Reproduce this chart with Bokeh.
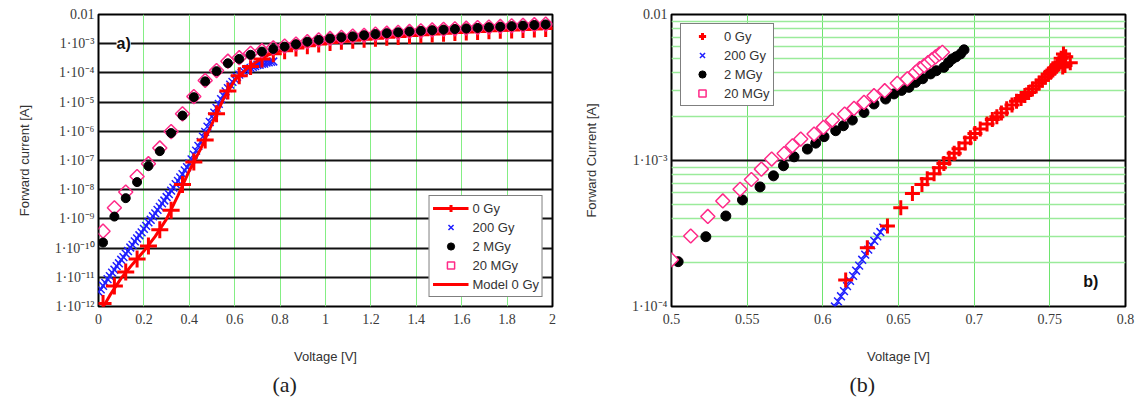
from bokeh.plotting import figure
from bokeh.layouts import row
from bokeh.models import (Range1d, FixedTicker, CustomJSTickFormatter, Legend,
                          LegendItem, Label, Title)
from bokeh.embed import file_html
from bokeh.resources import INLINE

# ---------------- panel (a): forward sweep 0 .. 2 V ----------------
# measured bias points (V) shared by the 0 Gy, 2 MGy and 20 MGy sweeps
v_a = [0.02, 0.07, 0.12, 0.17, 0.22, 0.27, 0.32, 0.37, 0.42, 0.47,
       0.52, 0.57, 0.62, 0.67, 0.72, 0.77, 0.82, 0.87, 0.92, 0.97,
       1.02, 1.07, 1.12, 1.17, 1.22, 1.27, 1.32, 1.37, 1.42, 1.47,
       1.52, 1.57, 1.62, 1.67, 1.72, 1.77, 1.82, 1.87, 1.92, 1.97]

# log10 of forward current [A]
log_0gy_a = [-11.90, -11.30, -10.82, -10.37, -9.93, -9.37, -8.70, -7.82, -7.05, -6.30,
             -5.40, -4.62, -4.10, -3.78, -3.52, -3.34, -3.24, -3.15, -3.07, -3.01,
             -2.96, -2.92, -2.88, -2.85, -2.81, -2.78, -2.75, -2.72, -2.69, -2.67,
             -2.64, -2.62, -2.60, -2.58, -2.56, -2.54, -2.53, -2.51, -2.50, -2.48]

log_2mgy_a = [-9.81, -8.92, -8.29, -7.74, -7.19, -6.68, -6.06, -5.46, -4.83, -4.29,
              -3.94, -3.67, -3.52, -3.38, -3.27, -3.18, -3.10, -3.02, -2.93, -2.87,
              -2.82, -2.78, -2.75, -2.71, -2.67, -2.64, -2.61, -2.58, -2.56, -2.54,
              -2.52, -2.50, -2.48, -2.46, -2.44, -2.42, -2.40, -2.38, -2.36, -2.34]

log_20mgy_a = [-9.42, -8.62, -8.08, -7.55, -7.11, -6.57, -6.01, -5.40, -4.81, -4.26,
               -3.92, -3.60, -3.48, -3.33, -3.24, -3.14, -3.08, -3.01, -2.93, -2.87,
               -2.82, -2.78, -2.74, -2.71, -2.67, -2.64, -2.61, -2.58, -2.56, -2.53,
               -2.51, -2.49, -2.47, -2.45, -2.43, -2.41, -2.39, -2.37, -2.35, -2.33]

# 200 Gy sweep, finer voltage step
v_200gy_a = [0.00, 0.01, 0.02, 0.03, 0.04, 0.05, 0.06, 0.07, 0.08, 0.09,
             0.10, 0.11, 0.12, 0.13, 0.14, 0.15, 0.16, 0.17, 0.18, 0.19,
             0.20, 0.21, 0.22, 0.23, 0.24, 0.25, 0.26, 0.27, 0.28, 0.29,
             0.30, 0.31, 0.32, 0.33, 0.34, 0.35, 0.36, 0.37, 0.38, 0.39,
             0.40, 0.41, 0.42, 0.43, 0.44, 0.45, 0.46, 0.47, 0.48, 0.49,
             0.50, 0.51, 0.52, 0.53, 0.54, 0.55, 0.56, 0.57, 0.58, 0.59,
             0.60, 0.61, 0.62, 0.63, 0.64, 0.65, 0.66, 0.67, 0.68, 0.69,
             0.70, 0.71, 0.72, 0.73, 0.74, 0.75, 0.76, 0.77]
log_200gy_a = [-11.50, -11.41, -11.29, -11.19, -11.06, -10.96, -10.84, -10.74, -10.62, -10.52,
               -10.40, -10.31, -10.19, -10.10, -9.98, -9.89, -9.77, -9.67, -9.56, -9.46,
               -9.34, -9.24, -9.12, -9.03, -8.91, -8.81, -8.69, -8.59, -8.47, -8.37,
               -8.25, -8.15, -8.03, -7.93, -7.81, -7.70, -7.58, -7.47, -7.34, -7.23,
               -7.10, -6.96, -6.80, -6.66, -6.50, -6.36, -6.18, -6.02, -5.84, -5.68,
               -5.50, -5.36, -5.20, -5.06, -4.90, -4.77, -4.63, -4.52, -4.40, -4.31,
               -4.21, -4.14, -4.06, -4.01, -3.95, -3.91, -3.86, -3.83, -3.79, -3.77,
               -3.73, -3.72, -3.69, -3.68, -3.65, -3.64, -3.62, -3.61]

# diode model for the unirradiated device
v_model = [0.0, 0.05, 0.1, 0.15, 0.2, 0.25, 0.3, 0.35, 0.4, 0.45, 0.5, 0.55,
           0.6, 0.65, 0.7, 0.75, 0.8, 0.9, 1.0, 1.2, 1.4, 1.6, 1.8, 2.0]
log_model = [-12.3, -11.62, -11.03, -10.55, -10.1, -9.6, -9.0, -8.2, -7.35, -6.6, -5.75, -4.9,
             -4.25, -3.88, -3.6, -3.38, -3.24, -3.08, -2.95, -2.8, -2.67, -2.56, -2.49, -2.43]

# ---------------- panel (b): zoom on 0.5 .. 0.8 V ----------------
v_0gy_b = [0.6151, 0.6294, 0.6427, 0.6515, 0.6592, 0.6655, 0.6690, 0.6735, 0.6770, 0.6800,
           0.6835, 0.6868, 0.6900, 0.6940, 0.6975, 0.7005, 0.7040, 0.7085, 0.7120, 0.7150,
           0.7180, 0.7215, 0.7250, 0.7280, 0.7310, 0.7335, 0.7360, 0.7385, 0.7410, 0.7430,
           0.7450, 0.7470, 0.7490, 0.7505, 0.7520, 0.7535, 0.7550, 0.7560, 0.7575, 0.7590,
           0.7605, 0.7635, 0.7600, 0.7585]
log_0gy_b = [-3.819, -3.597, -3.448, -3.323, -3.226, -3.165, -3.125, -3.090, -3.050, -3.020,
             -2.985, -2.950, -2.920, -2.880, -2.845, -2.815, -2.785, -2.750, -2.720, -2.700,
             -2.675, -2.645, -2.620, -2.595, -2.575, -2.555, -2.535, -2.510, -2.490, -2.470,
             -2.450, -2.430, -2.410, -2.395, -2.380, -2.365, -2.345, -2.330, -2.300, -2.270,
             -2.290, -2.330, -2.350, -2.360]

v_200gy_b = [0.608, 0.610, 0.612, 0.614, 0.616, 0.618, 0.620, 0.622, 0.624, 0.626,
             0.628, 0.630, 0.632, 0.634, 0.636, 0.638, 0.640]
log_200gy_b = [-4.00, -3.965, -3.93, -3.895, -3.86, -3.825, -3.79, -3.755, -3.72, -3.68,
               -3.645, -3.61, -3.58, -3.55, -3.52, -3.49, -3.46]

v_2mgy_b = [0.5044, 0.5227, 0.5359, 0.5469, 0.5585, 0.5674, 0.5740, 0.5810, 0.5898, 0.5953,
            0.6008, 0.6085, 0.6136, 0.6195, 0.6272, 0.6338, 0.6415, 0.6470, 0.6520, 0.6569,
            0.6613, 0.6660, 0.6712, 0.6750, 0.6800, 0.6830, 0.6856, 0.6880, 0.6910, 0.6933]
log_2mgy_b = [-3.693, -3.522, -3.380, -3.270, -3.181, -3.105, -3.036, -2.975, -2.922, -2.881,
              -2.837, -2.796, -2.762, -2.723, -2.671, -2.613, -2.579, -2.544, -2.520, -2.499,
              -2.465, -2.440, -2.407, -2.385, -2.362, -2.330, -2.304, -2.290, -2.270, -2.242]

v_20mgy_b = [0.5000, 0.5127, 0.5240, 0.5339, 0.5453, 0.5528, 0.5594, 0.5662, 0.5744, 0.5799,
             0.5854, 0.5942, 0.6004, 0.6063, 0.6144, 0.6206, 0.6272, 0.6338, 0.6409, 0.6492,
             0.6558, 0.6613, 0.6640, 0.6670, 0.6695, 0.6720, 0.6745, 0.6770, 0.6790]
log_20mgy_b = [-3.680, -3.517, -3.383, -3.277, -3.197, -3.130, -3.059, -2.990, -2.952, -2.899,
               -2.853, -2.819, -2.773, -2.723, -2.682, -2.643, -2.602, -2.556, -2.522, -2.471,
               -2.441, -2.396, -2.370, -2.350, -2.330, -2.310, -2.290, -2.270, -2.259]

RED = "#ff0000"
BLUE = "#1f1fff"
PINK = "#ff2a88"
GREEN = "#84ee84"
SERIF = "Liberation Serif"
SANS = "Liberation Sans"
QUARTER_TURN = 0.785398  # square marker turned into a diamond

Y_FMT = CustomJSTickFormatter(code="""
    const e = Math.round(Math.log10(tick));
    if (e === -2) { return "0.01"; }
    const sup = {"0":"\u2070","1":"\u00b9","2":"\u00b2","3":"\u00b3","4":"\u2074",
                 "5":"\u2075","6":"\u2076","7":"\u2077","8":"\u2078","9":"\u2079","-":"\u207b"};
    return "1\u00b710" + String(e).split("").map(c => sup[c]).join("");
""")
X_FMT = CustomJSTickFormatter(code="return String(Math.round(tick * 100) / 100);")


def to_amp(logs):
    return [10.0 ** v for v in logs]


def base_figure(width, left, right, x_range, y_range, ylabel, ylabel_standoff):
    p = figure(width=width, height=409, x_range=x_range, y_range=y_range,
               y_axis_type="log", output_backend="svg", toolbar_location=None,
               min_border_left=left, min_border_right=right,
               min_border_top=14, min_border_bottom=103)
    p.outline_line_color = "black"
    p.outline_line_width = 2
    p.background_fill_color = "white"
    p.border_fill_color = "white"
    for ax in (p.xaxis[0], p.yaxis[0]):
        ax.axis_line_color = None
        ax.major_tick_line_color = None
        ax.minor_tick_line_color = None
        ax.major_tick_out = 0
        ax.major_tick_in = 0
        ax.major_label_text_font = SERIF
        ax.major_label_text_font_size = "14px"
        ax.major_label_text_color = "#3a3a3a"
        ax.axis_label_text_font = SANS
        ax.axis_label_text_font_size = "13px"
        ax.axis_label_text_font_style = "normal"
        ax.axis_label_text_color = "#333333"
    p.xaxis.axis_label = "Voltage [V]"
    p.xaxis.major_label_standoff = 7
    p.xaxis.axis_label_standoff = 22
    p.yaxis.axis_label = ylabel
    p.yaxis.major_label_standoff = 4
    p.yaxis.axis_label_standoff = ylabel_standoff
    p.yaxis.formatter = Y_FMT
    p.xaxis.formatter = X_FMT
    return p


def add_legend(p, items, location):
    leg = Legend(items=items, location=location, margin=9, padding=3, spacing=1,
                 glyph_width=36, glyph_height=18, label_height=18, label_standoff=4,
                 label_text_font=SANS, label_text_font_size="13px",
                 label_text_color="#333333", border_line_color="black",
                 border_line_width=1.5, background_fill_color="white",
                 background_fill_alpha=1.0)
    p.add_layout(leg)


def add_caption(p, text, offset):
    # sub-figure caption at the bottom edge of the figure
    p.add_layout(Title(text=text, align="left", offset=offset, standoff=6,
                       vertical_align="bottom", text_baseline="middle",
                       text_font=SERIF, text_font_size="22px",
                       text_font_style="normal", text_color="#222222"), "below")


# ---------------- figure (a) ----------------
pa = base_figure(570, 98, 18, Range1d(0, 2), Range1d(1e-12, 1e-2),
                 "Forward current [A]", 20)
x_ticks_a = [0, 0.2, 0.4, 0.6, 0.8, 1.0, 1.2, 1.4, 1.6, 1.8, 2.0]
y_ticks_a = [1e-12, 1e-11, 1e-10, 1e-9, 1e-8, 1e-7, 1e-6, 1e-5, 1e-4, 1e-3, 1e-2]
pa.xaxis.ticker = FixedTicker(ticks=x_ticks_a)
pa.yaxis.ticker = FixedTicker(ticks=y_ticks_a)
pa.xgrid.ticker = FixedTicker(ticks=x_ticks_a)
pa.ygrid.ticker = FixedTicker(ticks=y_ticks_a)
pa.xgrid.grid_line_color = GREEN
pa.xgrid.grid_line_width = 1
pa.ygrid.grid_line_color = "#111111"
pa.ygrid.grid_line_width = 1.8

r_200a = pa.scatter(v_200gy_a, to_amp(log_200gy_a), marker="x", size=11,
                    line_color=BLUE, line_width=1.5)
r_0a = pa.scatter(v_a, to_amp(log_0gy_a), marker="cross", size=17,
                  line_color=RED, line_width=3)
r_model = pa.line(v_model, to_amp(log_model), line_color=RED, line_width=3)
r_20a = pa.scatter(v_a, to_amp(log_20mgy_a), marker="square",
                   angle=[QUARTER_TURN] * len(v_a), size=10,
                   line_color=PINK, line_width=1.5, fill_color=None)
r_2a = pa.scatter(v_a, to_amp(log_2mgy_a), marker="circle", size=9,
                  line_color="black", fill_color="black")

pa.add_layout(Label(x=0.053, y=1e-3, text="a)", text_font=SANS, text_font_style="bold",
                    text_font_size="16px", text_baseline="middle", text_align="left",
                    x_offset=6, background_fill_color="white", text_color="#111111"))

add_legend(pa, [LegendItem(label="0 Gy", renderers=[r_model, r_0a]),
                LegendItem(label="200 Gy", renderers=[r_200a]),
                LegendItem(label="2 MGy", renderers=[r_2a]),
                LegendItem(label="20 MGy", renderers=[r_20a]),
                LegendItem(label="Model 0 Gy", renderers=[r_model])], "bottom_right")
add_caption(pa, "(a)", 174)

# ---------------- figure (b) ----------------
pb = base_figure(572, 101, 17, Range1d(0.5, 0.8), Range1d(1e-4, 1e-2),
                 "Forward Current [A]", 30)
x_ticks_b = [0.5, 0.55, 0.6, 0.65, 0.7, 0.75, 0.8]
y_ticks_b = [1e-4, 1e-3, 1e-2]
y_minor_b = [2e-4, 3e-4, 4e-4, 5e-4, 6e-4, 7e-4, 8e-4, 9e-4,
             2e-3, 3e-3, 4e-3, 5e-3, 6e-3, 7e-3, 8e-3, 9e-3]
pb.xaxis.ticker = FixedTicker(ticks=x_ticks_b)
pb.yaxis.ticker = FixedTicker(ticks=y_ticks_b)
pb.xgrid.ticker = FixedTicker(ticks=x_ticks_b)
pb.ygrid.ticker = FixedTicker(ticks=y_ticks_b, minor_ticks=y_minor_b)
pb.xgrid.grid_line_color = "#6ee46e"
pb.xgrid.grid_line_width = 1
pb.ygrid.grid_line_color = "#111111"
pb.ygrid.grid_line_width = 1.8
pb.ygrid.minor_grid_line_color = "#9aeb9a"
pb.ygrid.minor_grid_line_width = 1.5

r_2b = pb.scatter(v_2mgy_b, to_amp(log_2mgy_b), marker="circle", size=10,
                  line_color="black", fill_color="black")
r_20b = pb.scatter(v_20mgy_b, to_amp(log_20mgy_b), marker="square",
                   angle=[QUARTER_TURN] * len(v_20mgy_b), size=10,
                   line_color=PINK, line_width=1.5, fill_color="white")
r_200b = pb.scatter(v_200gy_b, to_amp(log_200gy_b), marker="x", size=11,
                    line_color=BLUE, line_width=1.5)
r_0b = pb.scatter(v_0gy_b, to_amp(log_0gy_b), marker="cross", size=15,
                  line_color=RED, line_width=3)

pb.add_layout(Label(x=0.772, y=10 ** -3.826, text="b)", text_font=SANS, text_font_style="bold",
                    text_font_size="16px", text_baseline="middle", text_align="left",
                    text_color="#111111"))

add_legend(pb, [LegendItem(label="0 Gy", renderers=[r_0b]),
                LegendItem(label="200 Gy", renderers=[r_200b]),
                LegendItem(label="2 MGy", renderers=[r_2b]),
                LegendItem(label="20 MGy", renderers=[r_20b])], "top_left")
add_caption(pb, "(b)", 178)

layout = row(pa, pb)
open("out.html", "w").write(file_html(layout, INLINE))
